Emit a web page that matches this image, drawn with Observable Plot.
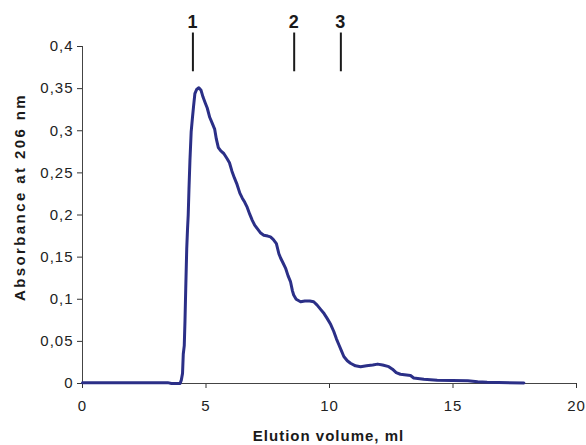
<!DOCTYPE html>
<html>
<head>
<meta charset="utf-8">
<script src="https://cdn.jsdelivr.net/npm/d3@7"></script>
<script src="https://cdn.jsdelivr.net/npm/@observablehq/plot@0.6"></script>
<style>
  html, body { margin: 0; padding: 0; background: #fff; }
</style>
</head>
<body>
<div id="chart"></div>
<script>
// Elution profile (ml vs absorbance at 206 nm)
const volume = [0, 3.45, 3.6, 3.95, 4.0, 4.05, 4.08, 4.12, 4.15, 4.18, 4.22, 4.25, 4.28, 4.31, 4.35, 4.40, 4.45, 4.50, 4.55, 4.62, 4.71, 4.80, 4.88, 4.97, 5.05, 5.15, 5.25, 5.35, 5.42, 5.50, 5.60, 5.72, 5.85, 5.95, 6.05, 6.15, 6.26, 6.37, 6.47, 6.57, 6.67, 6.77, 6.87, 6.97, 7.07, 7.2, 7.34, 7.5, 7.61, 7.72, 7.85, 7.95, 8.02, 8.12, 8.22, 8.32, 8.42, 8.50, 8.55, 8.65, 8.83, 9.0, 9.2, 9.36, 9.5, 9.64, 9.78, 9.91, 10.05, 10.17, 10.28, 10.38, 10.48, 10.58, 10.72, 10.85, 11.05, 11.26, 11.5, 11.75, 11.95, 12.15, 12.4, 12.55, 12.7, 12.87, 13.28, 13.41, 13.82, 14.36, 15.6, 16.0, 16.38, 17.87];
const absorbance = [0.001, 0.001, 0.0, 0.0, 0.004, 0.012, 0.035, 0.045, 0.075, 0.113, 0.16, 0.182, 0.2, 0.23, 0.265, 0.299, 0.315, 0.33, 0.344, 0.349, 0.351, 0.348, 0.34, 0.333, 0.327, 0.316, 0.309, 0.302, 0.29, 0.28, 0.276, 0.273, 0.267, 0.262, 0.252, 0.244, 0.236, 0.226, 0.220, 0.215, 0.209, 0.201, 0.194, 0.188, 0.184, 0.179, 0.176, 0.175, 0.174, 0.171, 0.166, 0.154, 0.149, 0.143, 0.137, 0.128, 0.121, 0.11, 0.105, 0.1, 0.097, 0.098, 0.098, 0.097, 0.093, 0.088, 0.083, 0.077, 0.07, 0.062, 0.053, 0.046, 0.039, 0.032, 0.027, 0.024, 0.021, 0.020, 0.021, 0.022, 0.023, 0.022, 0.020, 0.017, 0.013, 0.011, 0.0095, 0.0065, 0.005, 0.0038, 0.0032, 0.0022, 0.0015, 0.0005];

// Marker positions (ml) and labels
const markerVolume = [4.47, 8.57, 10.46];
const markerLabel = ["1", "2", "3"];

// Axis ticks
const xTicks = [0, 5, 10, 15, 20];
const yTicks = [0, 0.05, 0.1, 0.15, 0.2, 0.25, 0.3, 0.35, 0.4];
const yTickLabels = ["0", "0,05", "0,1", "0,15", "0,2", "0,25", "0,3", "0,35", "0,4"];

const xLabel = "Elution volume, ml";
const yLabel = "Absorbance at 206 nm";

const data = volume.map((v, i) => ({volume: v, absorbance: absorbance[i]}));
const ink = "#1a1a1a";

const chart = Plot.plot({
  width: 586,
  height: 445,
  marginTop: 46,
  marginBottom: 62,
  marginLeft: 82,
  marginRight: 10,
  x: {domain: [0, 20]},
  y: {domain: [0, 0.4]},
  style: {
    fontFamily: "'Liberation Sans', Arial, sans-serif",
    fontSize: "15px",
    color: "#222",
    background: "#fff",
    letterSpacing: "1px"
  },
  marks: [
    Plot.axisX({ticks: xTicks, tickSize: 5, tickPadding: 12, label: null, stroke: "#333", fill: "#222"}),
    Plot.axisY({ticks: yTicks, tickSize: 5, tickPadding: 4, label: null, stroke: "#333", fill: "#222",
      tickFormat: d => yTickLabels[yTicks.indexOf(d)]}),
    Plot.ruleY([0], {stroke: "#444", strokeWidth: 1}),
    Plot.ruleX([0], {stroke: "#444", strokeWidth: 1}),
    Plot.line(data, {x: "volume", y: "absorbance", stroke: "#2b2f87", strokeWidth: 3, strokeLinejoin: "round", curve: "linear"}),
    Plot.ruleX(markerVolume, {x: d => d, y1: 0.37, y2: 0.416, stroke: ink, strokeWidth: 2}),
    Plot.text(markerVolume, {x: d => d, y: 0.429, text: (d, i) => markerLabel[i], fontSize: 18, fontWeight: "bold", fill: ink}),
    Plot.text([yLabel], {frameAnchor: "left", textAnchor: "middle", lineAnchor: "middle", rotate: -90, dx: -62, dy: -18, fontSize: 15, fontWeight: "bold", fill: ink}),
    Plot.text([xLabel], {frameAnchor: "bottom", textAnchor: "middle", lineAnchor: "middle", dx: -1, dy: 53, fontSize: 15, fontWeight: "bold", fill: ink})
  ]
});

// wider tracking on the rotated y label, as in the original
chart.querySelectorAll("text").forEach(t => {
  if (t.textContent === yLabel) t.setAttribute("letter-spacing", "2.4px");
});

document.getElementById("chart").appendChild(chart);
</script>
</body>
</html>
